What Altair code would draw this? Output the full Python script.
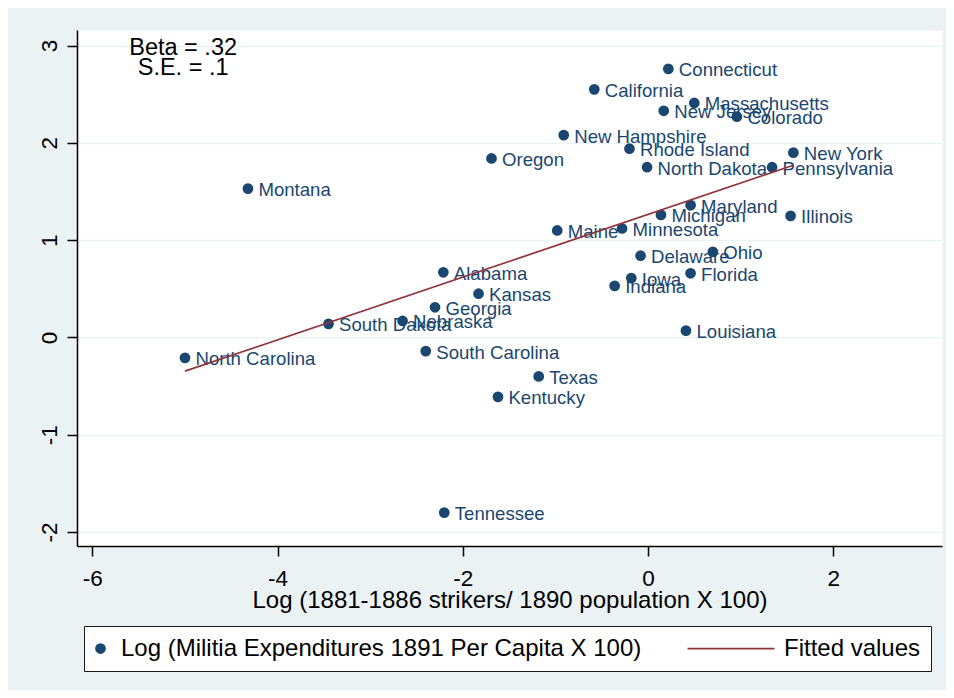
import altair as alt
import pandas as pd

# ---------------- data ----------------
STATES = [
    "Connecticut", "California", "Massachusetts", "New Jersey", "Colorado",
    "New Hampshire", "Rhode Island", "Oregon", "New York", "North Dakota",
    "Pennsylvania", "Montana", "Maryland", "Michigan", "Illinois",
    "Maine", "Minnesota", "Delaware", "Ohio", "Alabama",
    "Florida", "Iowa", "Indiana", "Kansas", "Georgia",
    "Nebraska", "South Dakota", "Louisiana", "South Carolina", "North Carolina",
    "Texas", "Kentucky", "Tennessee",
]
STRIKERS_LOG = [
    0.22, -0.58, 0.50, 0.17, 0.96,
    -0.91, -0.20, -1.69, 1.57, -0.01,
    1.34, -4.32, 0.46, 0.14, 1.54,
    -0.98, -0.28, -0.08, 0.70, -2.21,
    0.46, -0.18, -0.36, -1.83, -2.30,
    -2.65, -3.45, 0.41, -2.40, -5.00,
    -1.18, -1.62, -2.20,
]
MILITIA_LOG = [
    2.76, 2.55, 2.41, 2.33, 2.27,
    2.08, 1.94, 1.84, 1.90, 1.75,
    1.75, 1.53, 1.36, 1.26, 1.25,
    1.10, 1.12, 0.84, 0.88, 0.67,
    0.66, 0.61, 0.53, 0.45, 0.31,
    0.17, 0.14, 0.07, -0.14, -0.21,
    -0.40, -0.61, -1.80,
]
SERIES = ["Log (Militia Expenditures 1891 Per Capita X 100)", "Fitted values"]
X_TICKS = [-6, -4, -2, 0, 2]
Y_TICKS = [-2, -1, 0, 1, 2, 3]
X_DOMAIN = [-6.166, 3.175]
Y_DOMAIN = [-2.143, 3.160]
ANNOT_LINES = ["Beta = .32", "S.E. = .1"]
ANNOT_X = [-5.02]
ANNOT_Y = [2.90]
X_TITLE = "Log (1881-1886 strikers/ 1890 population X 100)"

NAVY = "#1a476f"
RED = "#90353b"
BG = "#EAF2F3"
FONT = "Liberation Sans, Arial, sans-serif"

df = pd.DataFrame({"state": STATES, "x": STRIKERS_LOG, "y": MILITIA_LOG})
df["series"] = SERIES[0]
ann = pd.DataFrame({"x": ANNOT_X, "y": ANNOT_Y, "text": ["\n".join(ANNOT_LINES)]})

xaxis = alt.Axis(
    values=X_TICKS, title=X_TITLE, grid=False,
    tickSize=10, labelPadding=29, labelBaseline="alphabetic",
    labelFontSize=22.5, labelExpr="'' + datum.value",
    titleFontSize=24, titleFontWeight="normal", titleY=61, titleBaseline="alphabetic",
)
yaxis = alt.Axis(
    values=Y_TICKS, title=None, grid=True, gridColor=BG, gridWidth=1.5,
    tickSize=10, labelPadding=11, labelAngle=270, labelAlign="center",
    labelBaseline="alphabetic", labelFontSize=22.5, labelExpr="'' + datum.value",
)
X = alt.X("x:Q", scale=alt.Scale(domain=X_DOMAIN, nice=False, zero=False), axis=xaxis)
Y = alt.Y("y:Q", scale=alt.Scale(domain=Y_DOMAIN, nice=False, zero=False), axis=yaxis)

leg = alt.Legend(
    title=None, orient="none", legendX=7, legendY=596, direction="horizontal",
    padding=10.5, fillColor="white", strokeColor="#1a1a1a",
    labelFontSize=24, labelFont=FONT, labelColor="black", labelLimit=2000,
    labelOffset=8.5, symbolOffset=-6, columnPadding=46, clipHeight=24,
    symbolStrokeWidth=1.75, symbolOpacity=1,
)

labels = alt.Chart(df).mark_text(
    align="left", baseline="alphabetic", dx=10.5, dy=7.5,
    fontSize=18.6, font=FONT, color=NAVY,
).encode(x=X, y=Y, text="state:N")

points = alt.Chart(df).mark_point(filled=True, opacity=1, strokeWidth=1.75).encode(
    x=X, y=Y,
    fill=alt.Fill("series:N", scale=alt.Scale(domain=SERIES, range=[NAVY, RED]), legend=leg),
    stroke=alt.Stroke("series:N", scale=alt.Scale(domain=SERIES, range=[NAVY, RED]), legend=leg),
    shape=alt.Shape("series:N", scale=alt.Scale(domain=SERIES, range=["circle", "stroke"]), legend=leg),
    size=alt.Size("series:N", scale=alt.Scale(domain=SERIES, range=[81, 8464]), legend=leg),
)

fit = alt.Chart(df).transform_regression("x", "y").mark_line(
    color=RED, strokeWidth=1.75
).encode(x=X, y=Y)

annot = alt.Chart(ann).mark_text(
    align="center", baseline="alphabetic", lineBreak="\n", lineHeight=20,
    fontSize=23.5, font=FONT, color="black",
).encode(x=X, y=Y, text="text:N")

chart = alt.layer(labels, points, fit, annot).properties(
    width=865, height=516,
    autosize=alt.AutoSizeParams(type="none"),
    padding={"left": 69, "top": 22, "right": 4, "bottom": 144},
    background=BG,
).configure_view(
    fill="white", stroke="transparent"
).configure_axis(
    labelFont=FONT, titleFont=FONT, labelColor="black", titleColor="black",
    domainColor="black", tickColor="black", domainWidth=1.5, tickWidth=1.5,
)

chart.save("out.html", embed_options={"renderer": "svg", "actions": False})
